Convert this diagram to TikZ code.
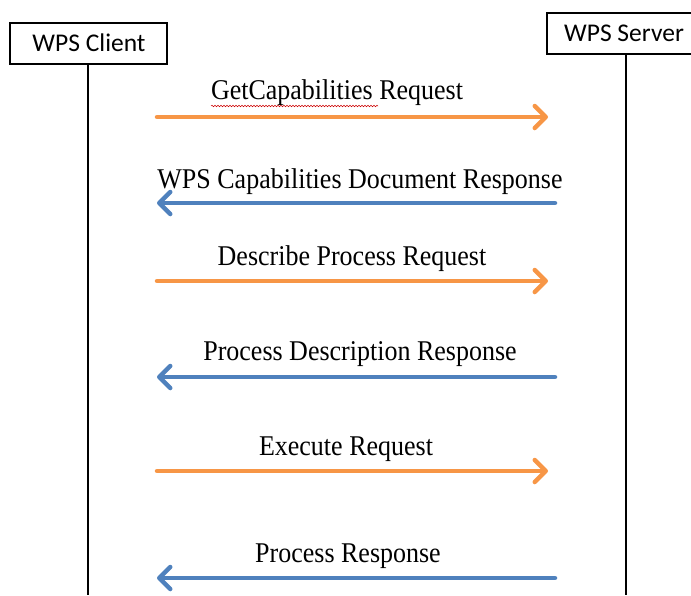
\documentclass[tikz,border=0pt]{standalone}
\usepackage{fontspec}
\setmainfont{Liberation Serif}
\newfontfamily\boxfont{Carlito}
\usetikzlibrary{arrows.meta,decorations.pathmorphing}
\definecolor{reqorange}{HTML}{F79646}
\definecolor{resblue}{HTML}{4F81BD}
\newcommand{\tallmsg}[1]{\scalebox{1}[1.1]{#1}}
\tikzset{
  actor/.style={draw=black, line width=1.6pt, fill=white, inner sep=0pt, anchor=north west},
  actorlbl/.style={font=\boxfont\fontsize{25.5}{28}\selectfont, inner sep=0pt},
  lifeline/.style={draw=black, line width=1.8pt},
  msg/.style={line width=4.5pt, -{Straight Barb[length=11pt,width=22pt,line width=4.5pt,round]}, line cap=round},
  req/.style={msg, draw=reqorange},
  res/.style={msg, draw=resblue},
  lbl/.style={font=\fontsize{26}{28}\selectfont, inner sep=0pt}
}
\begin{document}
\begin{tikzpicture}[x=1pt,y=-1pt]
\useasboundingbox (0,0) rectangle (691,595);
% actors
\node[actor, minimum width=157pt, minimum height=41pt] (client) at (9,22) {};
\node[actorlbl] (clientlbl) at (89,43) {WPS Client};
\node[actor, minimum width=152pt, minimum height=41pt] (server) at (546,12) {};
\node[actorlbl] (serverlbl) at (624,33) {WPS Server};
% lifelines
\coordinate (cl) at (88,63);
\coordinate (clend) at (88,595);
\coordinate (sl) at (626,53);
\coordinate (slend) at (626,595);
\draw[lifeline] (cl) -- (clend);
\draw[lifeline] (sl) -- (slend);
% message endpoints
\coordinate (a1) at (157,117); \coordinate (b1) at (548,117);
\coordinate (a2) at (555,203); \coordinate (b2) at (157,203);
\coordinate (a3) at (157,281); \coordinate (b3) at (548,281);
\coordinate (a4) at (555,377); \coordinate (b4) at (157,377);
\coordinate (a5) at (157,471); \coordinate (b5) at (548,471);
\coordinate (a6) at (555,578); \coordinate (b6) at (157,578);
\draw[req] (a1) -- (b1);
\draw[res] (a2) -- (b2);
\draw[req] (a3) -- (b3);
\draw[res] (a4) -- (b4);
\draw[req] (a5) -- (b5);
\draw[res] (a6) -- (b6);
% labels
\node[lbl] (l1) at (337,93) {\tallmsg{GetCapabilities Request}};
\node[lbl] (l2) at (360,182) {\tallmsg{WPS Capabilities Document Response}};
\node[lbl] (l3) at (352,259) {\tallmsg{Describe Process Request}};
\node[lbl] (l4) at (360,354) {\tallmsg{Process Description Response}};
\node[lbl] (l5) at (346,449) {\tallmsg{Execute Request}};
\node[lbl] (l6) at (348,556) {\tallmsg{Process Response}};
% spell-check squiggle
\coordinate (sq1) at (211,106);
\coordinate (sq2) at (378,106);
\draw[red!80!black, line width=0.5pt, decorate, decoration={snake, amplitude=0.8pt, segment length=3pt}] (sq1) -- (sq2);
\end{tikzpicture}
\end{document}
